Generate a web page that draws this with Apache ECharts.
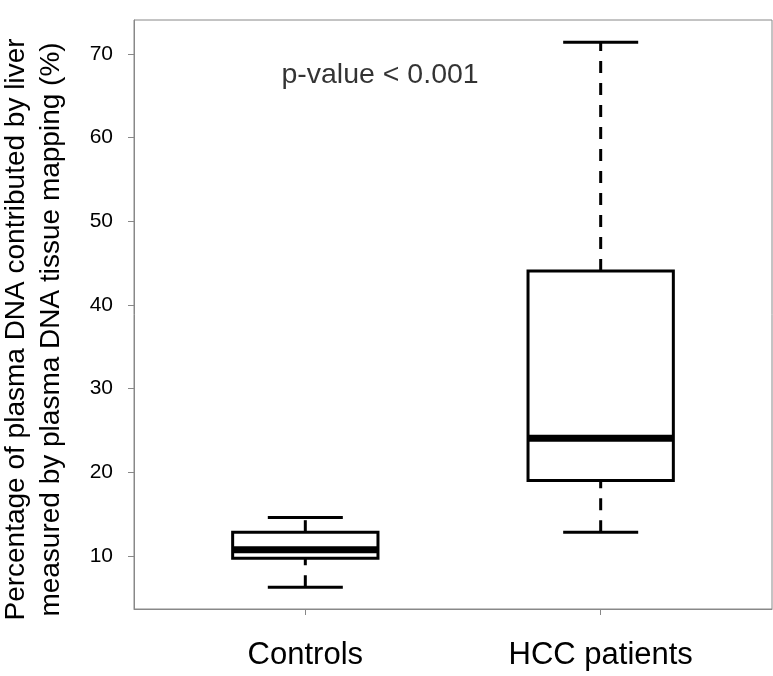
<!DOCTYPE html>
<html>
<head>
<meta charset="utf-8">
<script src="https://cdn.jsdelivr.net/npm/echarts@6/dist/echarts.min.js"></script>
<style>html,body{margin:0;padding:0;background:#fff}#c{width:773px;height:676px}</style>
</head>
<body>
<div id="c"></div>
<script>
// Data
const categories = ['Controls', 'HCC patients'];
const positions = [1, 2];
const whiskerLow = [6.26, 12.83];
const q1 = [9.72, 19.0];
const median = [10.72, 24.06];
const q3 = [12.83, 44.05];
const whiskerHigh = [14.58, 71.4];
const yTicks = [10, 20, 30, 40, 50, 60, 70];
const pText = 'p-value < 0.001';
const pPos = [1.253, 67.4];
const yTitle = 'Percentage of plasma DNA contributed by liver\nmeasured by plasma DNA tissue mapping (%)';

const FONT = '"Liberation Sans", Arial, sans-serif';
const boxData = positions.map((p, i) => [p, whiskerLow[i], q1[i], median[i], q3[i], whiskerHigh[i]]);

const chart = echarts.init(document.getElementById('c'));
chart.setOption({
  animation: false,
  backgroundColor: '#fff',
  grid: { left: 134, right: 1, top: 20, bottom: 67, show: true, borderColor: '#888', borderWidth: 1,
          containLabel: false, outerBoundsMode: 'none' },
  xAxis: {
    type: 'value', min: 0.42, max: 2.58,
    splitLine: { show: false },
    axisLine: { show: true, lineStyle: { color: '#888', width: 1 } },
    axisTick: { show: true, length: 6, customValues: positions, lineStyle: { color: '#888' } },
    axisLabel: {
      customValues: positions, margin: 31, fontSize: 31, fontFamily: FONT, color: '#000',
      formatter: v => categories[positions.indexOf(Math.round(v))] || ''
    }
  },
  yAxis: {
    type: 'value', min: 3.65, max: 74.05,
    splitLine: { show: false },
    axisLine: { show: true, lineStyle: { color: '#888', width: 1 } },
    axisTick: { show: true, length: 6, customValues: yTicks, lineStyle: { color: '#888' } },
    axisLabel: { customValues: yTicks, margin: 21, fontSize: 21, fontFamily: FONT, color: '#000' },
    name: yTitle, nameLocation: 'middle', nameRotate: 90, nameGap: 65,
    nameTextStyle: { fontSize: 28, fontFamily: FONT, color: '#000', lineHeight: 35, align: 'center', padding: [0, 30, 0, 0] }
  },
  series: [
    {
      type: 'custom',
      data: boxData,
      renderItem: function (params, api) {
        const x = api.value(0), lo = api.value(1), a = api.value(2), m = api.value(3), b = api.value(4), hi = api.value(5);
        const hw = 0.246, cw = 0.127;
        const c = (xx, yy) => api.coord([xx, yy]);
        const line = (p1, p2, w, dash) => ({
          type: 'line',
          shape: { x1: p1[0], y1: p1[1], x2: p2[0], y2: p2[1] },
          style: { stroke: '#000', lineWidth: w, lineDash: dash || null, lineCap: 'butt' }
        });
        const tl = c(x - hw, b), br = c(x + hw, a);
        return {
          type: 'group',
          children: [
            line(c(x, lo), c(x, a), 3, [12, 10]),
            line(c(x, b), c(x, hi), 3, [12, 10]),
            line(c(x - cw, lo), c(x + cw, lo), 3),
            line(c(x - cw, hi), c(x + cw, hi), 3),
            { type: 'rect', shape: { x: tl[0], y: tl[1], width: br[0] - tl[0], height: br[1] - tl[1] },
              style: { fill: '#fff', stroke: '#000', lineWidth: 3 } },
            line(c(x - hw, m), c(x + hw, m), 7)
          ]
        };
      }
    },
    {
      type: 'scatter',
      symbolSize: 0,
      silent: true,
      data: [pPos],
      label: { show: true, position: 'inside', formatter: pText, fontSize: 28.5, fontFamily: FONT, color: '#000' }
    }
  ]
});
</script>
</body>
</html>
